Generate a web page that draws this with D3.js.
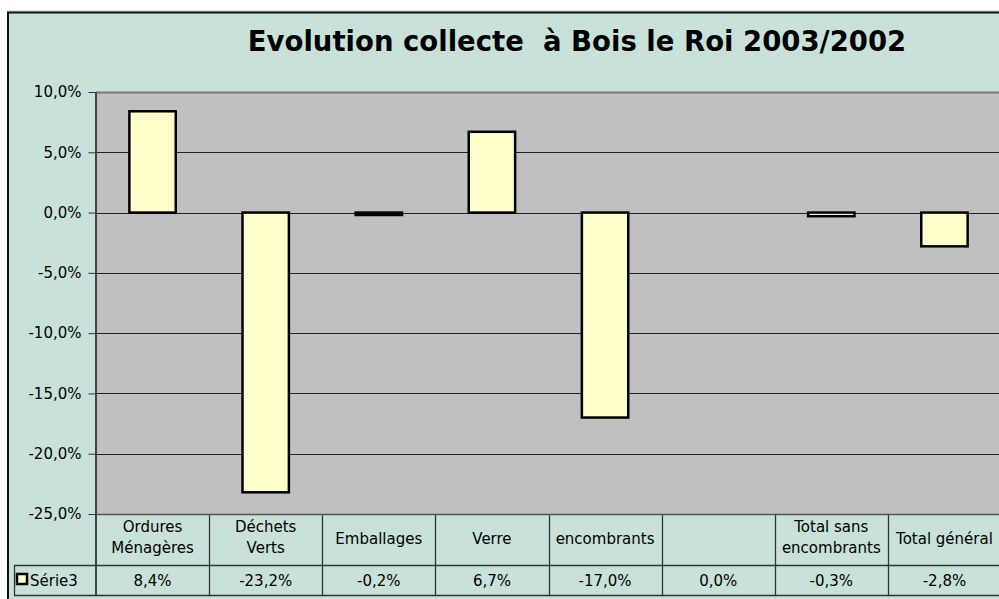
<!DOCTYPE html>
<html><head><meta charset="utf-8">
<script src="https://cdn.jsdelivr.net/npm/d3@7"></script>
<style>body{margin:0;background:#fff;overflow:hidden}svg{display:block}</style>
</head><body>
<svg id="c" width="999" height="599"></svg>
<script>
const categories = [["Ordures","Ménagères"],["Déchets","Verts"],["Emballages"],["Verre"],["encombrants"],[""],["Total sans","encombrants"],["Total général"]];
const values = [8.4, -23.2, -0.2, 6.7, -17.0, 0.0, -0.3, -2.8];
const valueLabels = ["8,4%","-23,2%","-0,2%","6,7%","-17,0%","0,0%","-0,3%","-2,8%"];
const yTicks = [10, 5, 0, -5, -10, -15, -20, -25];
const seriesName = "Série3";
const title = "Evolution collecte  à Bois le Roi 2003/2002";

(function(){
const svg = d3.select("#c");
const font = "'DejaVu Sans', Verdana, sans-serif";
const bg = "#C8E2DA";
const fs = 15;

svg.append("rect").attr("x",0).attr("y",0).attr("width",999).attr("height",599).attr("fill","#fff");
svg.append("rect").attr("x",7).attr("y",12).attr("width",1000).attr("height",600).attr("fill",bg);
svg.append("line").attr("x1",7).attr("x2",1000).attr("y1",11).attr("y2",11).attr("stroke","#bbb").attr("stroke-width",1);
svg.append("line").attr("x1",7).attr("x2",1000).attr("y1",12.5).attr("y2",12.5).attr("stroke","#111").attr("stroke-width",2);
svg.append("line").attr("x1",8).attr("x2",8).attr("y1",12).attr("y2",599).attr("stroke","#111").attr("stroke-width",2);

svg.append("text").attr("x",577).attr("y",51).attr("text-anchor","middle")
  .attr("font-family",font).attr("font-weight","bold").attr("font-size",27.5)
  .style("white-space","pre").text(title);

const pLeft = 96, pRight = 1001, pTop = 92, pBottom = 514;
const x = d3.scaleBand().domain(d3.range(values.length)).range([pLeft, pRight]).padding(0);
const y = d3.scaleLinear().domain([-25, 10]).range([pBottom, pTop]);

svg.append("rect").attr("x",pLeft).attr("y",pTop).attr("width",pRight-pLeft).attr("height",pBottom-pTop).attr("fill","#C0C0C0");

// gridlines
svg.append("g").selectAll("line").data(yTicks).join("line")
  .attr("x1",pLeft).attr("x2",pRight)
  .attr("y1",d=>Math.round(y(d))+0.5).attr("y2",d=>Math.round(y(d))+0.5)
  .attr("stroke",d=>d===10?"#777":"#222").attr("stroke-width",d=>d===10?2:1);

// y axis
const yAxis = d3.axisLeft(y).tickValues(yTicks).tickSize(8).tickPadding(7)
  .tickFormat(d=>d3.format(".1f")(d).replace(".",",").replace("\u2212","-")+"%");
const ga = svg.append("g").attr("transform",`translate(${pLeft+0.5},0)`).call(yAxis);
ga.select(".domain").remove();
ga.selectAll(".tick line").attr("stroke","#333");
ga.selectAll(".tick text").attr("font-family",font).attr("font-size",fs).attr("fill","#000");

// bars
const bw = x.bandwidth()*0.41;
svg.append("g").selectAll("rect").data(values).join("rect")
  .attr("x",(d,i)=>x(i)+(x.bandwidth()-bw)/2)
  .attr("y",d=>y(Math.max(0,d)))
  .attr("width",bw)
  .attr("height",d=>Math.abs(y(d)-y(0)))
  .attr("fill","#FFFFCC").attr("stroke","#000").attr("stroke-width",2.5)
  .style("display",d=>d===0?"none":null);

// axis line left
svg.append("line").attr("x1",pLeft).attr("x2",pLeft).attr("y1",pTop).attr("y2",595).attr("stroke","#444").attr("stroke-width",2);

// data table
const rowMid = 565, rowBot = 595;
const tg = svg.append("g");
tg.selectAll("line.v").data(d3.range(1, values.length+1)).join("line")
  .attr("x1",i=>Math.round(x(i-1)+x.bandwidth())+0.5).attr("x2",i=>Math.round(x(i-1)+x.bandwidth())+0.5)
  .attr("y1",pBottom).attr("y2",rowBot).attr("stroke","#333").attr("stroke-width",1.3);
tg.append("line").attr("x1",14).attr("x2",pRight).attr("y1",rowMid+0.5).attr("y2",rowMid+0.5).attr("stroke","#333").attr("stroke-width",1.3);
tg.append("line").attr("x1",14).attr("x2",pRight).attr("y1",rowBot+0.5).attr("y2",rowBot+0.5).attr("stroke","#333").attr("stroke-width",1.3);
tg.append("line").attr("x1",14.5).attr("x2",14.5).attr("y1",rowMid).attr("y2",rowBot).attr("stroke","#333").attr("stroke-width",1.3);
svg.append("line").attr("x1",pLeft).attr("x2",pRight).attr("y1",pBottom+0.5).attr("y2",pBottom+0.5).attr("stroke","#555").attr("stroke-width",1.5);

categories.forEach((lines,i)=>{
  const cx = x(i)+x.bandwidth()/2;
  const t = tg.append("text").attr("text-anchor","middle").attr("font-family",font).attr("font-size",fs).attr("fill","#000");
  if(lines.length===2){
    t.append("tspan").attr("x",cx).attr("y",532).text(lines[0]);
    t.append("tspan").attr("x",cx).attr("y",553).text(lines[1]);
  } else {
    t.append("tspan").attr("x",cx).attr("y",544).text(lines[0]);
  }
  tg.append("text").attr("x",cx).attr("y",586).attr("text-anchor","middle").attr("font-family",font).attr("font-size",fs).attr("fill","#000").text(valueLabels[i]);
});

// legend key
tg.append("rect").attr("x",17).attr("y",574).attr("width",10).attr("height",10).attr("fill","#FFFFCC").attr("stroke","#000").attr("stroke-width",2.5);
tg.append("text").attr("x",30).attr("y",586).attr("font-family",font).attr("font-size",fs).attr("fill","#000").text(seriesName);
})();
</script>
</body></html>
